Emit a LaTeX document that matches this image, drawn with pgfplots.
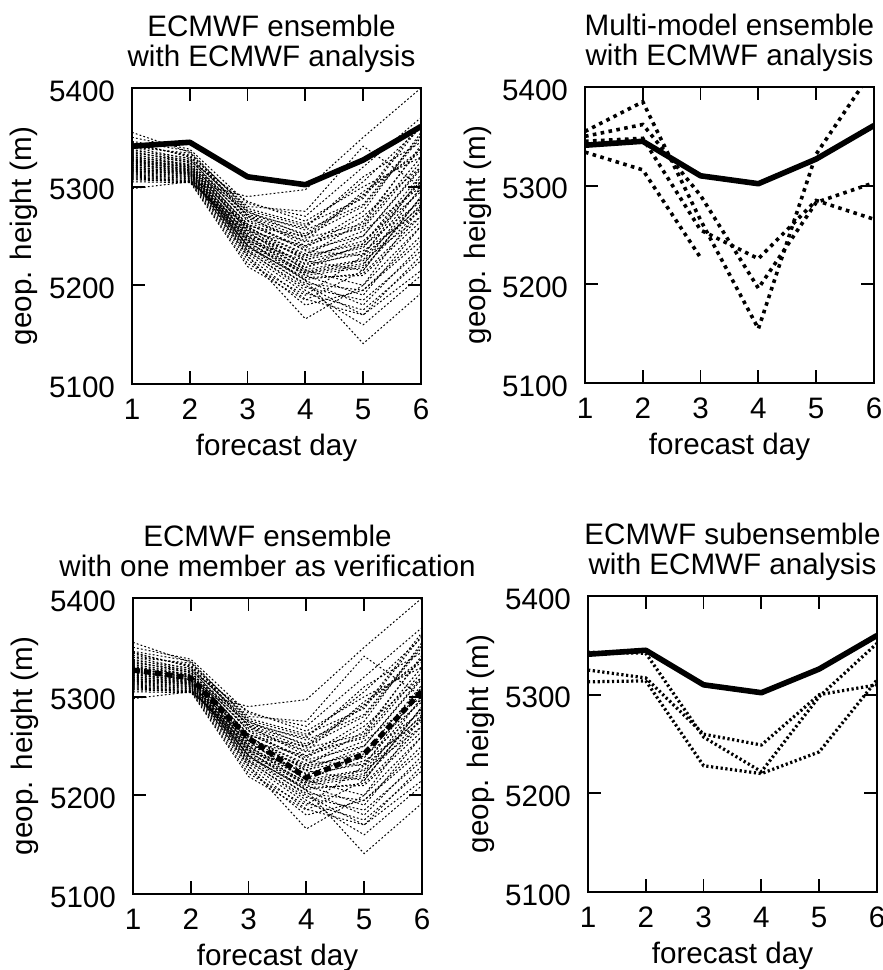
\documentclass[border=0pt]{standalone}
\usepackage{pgfplots}
\pgfplotsset{compat=1.18}
\usepackage{fontspec}
\setmainfont{Liberation Sans}

\newcommand{\fsz}{\fontsize{14.8}{15}\selectfont}

\pgfplotsset{
  panel/.style={
    scale only axis, width=144.5pt, height=148pt,
    anchor=south west,
    xmin=1, xmax=6, ymin=5100, ymax=5400,
    xtick={1,2,3,4,5,6}, ytick={5100,5200,5300,5400},
    tick pos=both, tick align=inside,
    major tick length=6.5pt,
    every tick/.style={black, line width=0.9pt},
    axis line style={line width=1.25pt},
    /pgf/number format/1000 sep={},
    /pgf/number format/assume math mode=true,
    tick label style={font=\fsz},
    xticklabel style={yshift=-4pt},
    yticklabel style={xshift=-5pt, yshift=-1.5pt},
    xlabel={forecast day}, ylabel={geop. height (m)},
    every axis x label/.style={at={(axis description cs:0.5,0)}, anchor=base, yshift=-35.5pt, font=\fsz},
    every axis y label/.style={at={(axis description cs:0,0.5)}, xshift=-50pt, rotate=90, anchor=base, font=\fsz},
    every axis title/.style={at={(axis description cs:0.5,1)}, anchor=south, inner sep=0pt, yshift=6pt, font=\fsz, align=center},
  },
  ens/.style={black, line width=0.5pt, dash pattern=on 0.9pt off 1.1pt},
  ana/.style={black, line width=2.8pt, line join=round},
  mm/.style={black, line width=1.8pt, dash pattern=on 1.8pt off 2.2pt},
  sub/.style={black, line width=1.6pt, dash pattern=on 1.1pt off 1.3pt},
  ver/.style={black, line width=2.6pt, dash pattern=on 3.5pt off 2pt},
}

% ECMWF ensemble members (day 1 ... 6)
\newcommand{\EnsemblePlots}{%
\addplot[ens] coordinates {(1,5355) (2,5335) (3,5270) (4,5240) (5,5260) (6,5330)};
\addplot[ens] coordinates {(1,5345) (2,5330) (3,5275) (4,5250) (5,5280) (6,5350)};
\addplot[ens] coordinates {(1,5340) (2,5328) (3,5265) (4,5235) (5,5230) (6,5310)};
\addplot[ens] coordinates {(1,5335) (2,5325) (3,5260) (4,5225) (5,5215) (6,5290)};
\addplot[ens] coordinates {(1,5330) (2,5322) (3,5255) (4,5215) (5,5200) (6,5280)};
\addplot[ens] coordinates {(1,5328) (2,5320) (3,5250) (4,5210) (5,5190) (6,5260)};
\addplot[ens] coordinates {(1,5325) (2,5318) (3,5245) (4,5205) (5,5180) (6,5240)};
\addplot[ens] coordinates {(1,5322) (2,5316) (3,5240) (4,5200) (5,5170) (6,5230)};
\addplot[ens] coordinates {(1,5320) (2,5314) (3,5235) (4,5195) (5,5160) (6,5210)};
\addplot[ens] coordinates {(1,5318) (2,5312) (3,5230) (4,5166) (5,5200) (6,5260)};
\addplot[ens] coordinates {(1,5315) (2,5310) (3,5240) (4,5205) (5,5141) (6,5192)};
\addplot[ens] coordinates {(1,5312) (2,5308) (3,5245) (4,5225) (5,5250) (6,5320)};
\addplot[ens] coordinates {(1,5310) (2,5306) (3,5250) (4,5230) (5,5265) (6,5340)};
\addplot[ens] coordinates {(1,5308) (2,5305) (3,5255) (4,5240) (5,5275) (6,5355)};
\addplot[ens] coordinates {(1,5305) (2,5304) (3,5260) (4,5250) (5,5290) (6,5365)};
\addplot[ens] coordinates {(1,5298) (2,5305) (3,5290) (4,5297) (5,5350) (6,5400)};
\addplot[ens] coordinates {(1,5342) (2,5332) (3,5280) (4,5275) (5,5341) (6,5300)};
\addplot[ens] coordinates {(1,5338) (2,5326) (3,5285) (4,5265) (5,5300) (6,5330)};
\addplot[ens] coordinates {(1,5336) (2,5324) (3,5272) (4,5258) (5,5310) (6,5345)};
\addplot[ens] coordinates {(1,5333) (2,5322) (3,5268) (4,5245) (5,5295) (6,5335)};
\addplot[ens] coordinates {(1,5331) (2,5321) (3,5262) (4,5238) (5,5270) (6,5320)};
\addplot[ens] coordinates {(1,5329) (2,5319) (3,5258) (4,5232) (5,5255) (6,5300)};
\addplot[ens] coordinates {(1,5327) (2,5317) (3,5252) (4,5228) (5,5245) (6,5295)};
\addplot[ens] coordinates {(1,5326) (2,5316) (3,5248) (4,5222) (5,5240) (6,5285)};
\addplot[ens] coordinates {(1,5324) (2,5315) (3,5246) (4,5218) (5,5235) (6,5275)};
\addplot[ens] coordinates {(1,5323) (2,5314) (3,5243) (4,5214) (5,5225) (6,5270)};
\addplot[ens] coordinates {(1,5321) (2,5313) (3,5241) (4,5212) (5,5220) (6,5300)};
\addplot[ens] coordinates {(1,5319) (2,5312) (3,5238) (4,5208) (5,5210) (6,5265)};
\addplot[ens] coordinates {(1,5317) (2,5311) (3,5236) (4,5202) (5,5195) (6,5250)};
\addplot[ens] coordinates {(1,5316) (2,5310) (3,5234) (4,5198) (5,5185) (6,5235)};
\addplot[ens] coordinates {(1,5314) (2,5309) (3,5232) (4,5192) (5,5175) (6,5225)};
\addplot[ens] coordinates {(1,5313) (2,5308) (3,5229) (4,5186) (5,5170) (6,5215)};
\addplot[ens] coordinates {(1,5311) (2,5307) (3,5226) (4,5180) (5,5195) (6,5245)};
\addplot[ens] coordinates {(1,5309) (2,5306) (3,5222) (4,5190) (5,5230) (6,5280)};
\addplot[ens] coordinates {(1,5307) (2,5305) (3,5219) (4,5185) (5,5215) (6,5290)};
\addplot[ens] coordinates {(1,5340) (2,5334) (3,5278) (4,5262) (5,5288) (6,5362)};
\addplot[ens] coordinates {(1,5337) (2,5329) (3,5274) (4,5256) (5,5282) (6,5352)};
\addplot[ens] coordinates {(1,5334) (2,5327) (3,5270) (4,5248) (5,5262) (6,5342)};
\addplot[ens] coordinates {(1,5332) (2,5325) (3,5266) (4,5244) (5,5258) (6,5325)};
\addplot[ens] coordinates {(1,5330) (2,5323) (3,5262) (4,5236) (5,5250) (6,5318)};
\addplot[ens] coordinates {(1,5328) (2,5321) (3,5259) (4,5230) (5,5242) (6,5312)};
\addplot[ens] coordinates {(1,5326) (2,5320) (3,5256) (4,5226) (5,5238) (6,5305)};
\addplot[ens] coordinates {(1,5324) (2,5318) (3,5253) (4,5221) (5,5232) (6,5298)};
\addplot[ens] coordinates {(1,5322) (2,5317) (3,5250) (4,5216) (5,5226) (6,5288)};
\addplot[ens] coordinates {(1,5320) (2,5315) (3,5247) (4,5213) (5,5222) (6,5282)};
\addplot[ens] coordinates {(1,5318) (2,5314) (3,5244) (4,5210) (5,5218) (6,5278)};
\addplot[ens] coordinates {(1,5316) (2,5313) (3,5240) (4,5206) (5,5212) (6,5270)};
\addplot[ens] coordinates {(1,5350) (2,5338) (3,5283) (4,5270) (5,5320) (6,5370)};
\addplot[ens] coordinates {(1,5346) (2,5336) (3,5276) (4,5260) (5,5305) (6,5360)};
\addplot[ens] coordinates {(1,5344) (2,5331) (3,5271) (4,5252) (5,5292) (6,5338)};
}

\begin{document}
\begin{tikzpicture}
\path[use as bounding box] (0pt,0pt) rectangle (441.5pt,-485pt);

% top left
\begin{axis}[panel, at={(66pt,-192pt)},
  title style={xshift=-2.5pt},
  title={ECMWF ensemble\\with ECMWF analysis\strut}]
\EnsemblePlots
\addplot[ens] coordinates {(1,5327) (2,5319) (3,5258) (4,5218) (5,5242) (6,5306)};
\addplot[ana] coordinates {(1,5341) (2,5345) (3,5310) (4,5302) (5,5327) (6,5361)};
\end{axis}

% top right
\begin{axis}[panel, at={(292.5pt,-191.5pt)},
  title={Multi-model ensemble\\with ECMWF analysis\strut}]
\addplot[mm] coordinates {(1,5355) (2,5385) (3,5265) (4,5155) (5,5332) (6,5419)};
\addplot[mm] coordinates {(1,5350) (2,5362) (3,5290) (4,5196) (5,5283) (6,5303)};
\addplot[mm] coordinates {(1,5345) (2,5348) (3,5255) (4,5226) (5,5285) (6,5266)};
\addplot[mm] coordinates {(1,5334) (2,5316) (3,5227)};
\addplot[ana] coordinates {(1,5341) (2,5345) (3,5310) (4,5302) (5,5327) (6,5361)};
\end{axis}

% bottom left
\begin{axis}[panel, at={(66.5pt,-447pt)},
  title style={xshift=-5pt},
  title={ECMWF ensemble\\with one member as verification\strut}]
\EnsemblePlots
\addplot[ver] coordinates {(1,5327) (2,5319) (3,5258) (4,5218) (5,5242) (6,5306)};
\end{axis}

% bottom right
\begin{axis}[panel, at={(294pt,-446pt)},
  title={ECMWF subensemble\\with ECMWF analysis\strut}]
\addplot[sub] coordinates {(1,5343) (2,5342) (3,5257) (4,5222) (5,5298) (6,5352)};
\addplot[sub] coordinates {(1,5325) (2,5317) (3,5260) (4,5249) (5,5300) (6,5310)};
\addplot[sub] coordinates {(1,5313) (2,5314) (3,5228) (4,5220) (5,5242) (6,5315)};
\addplot[ana] coordinates {(1,5341) (2,5345) (3,5310) (4,5302) (5,5326) (6,5360)};
\end{axis}
\end{tikzpicture}
\end{document}
